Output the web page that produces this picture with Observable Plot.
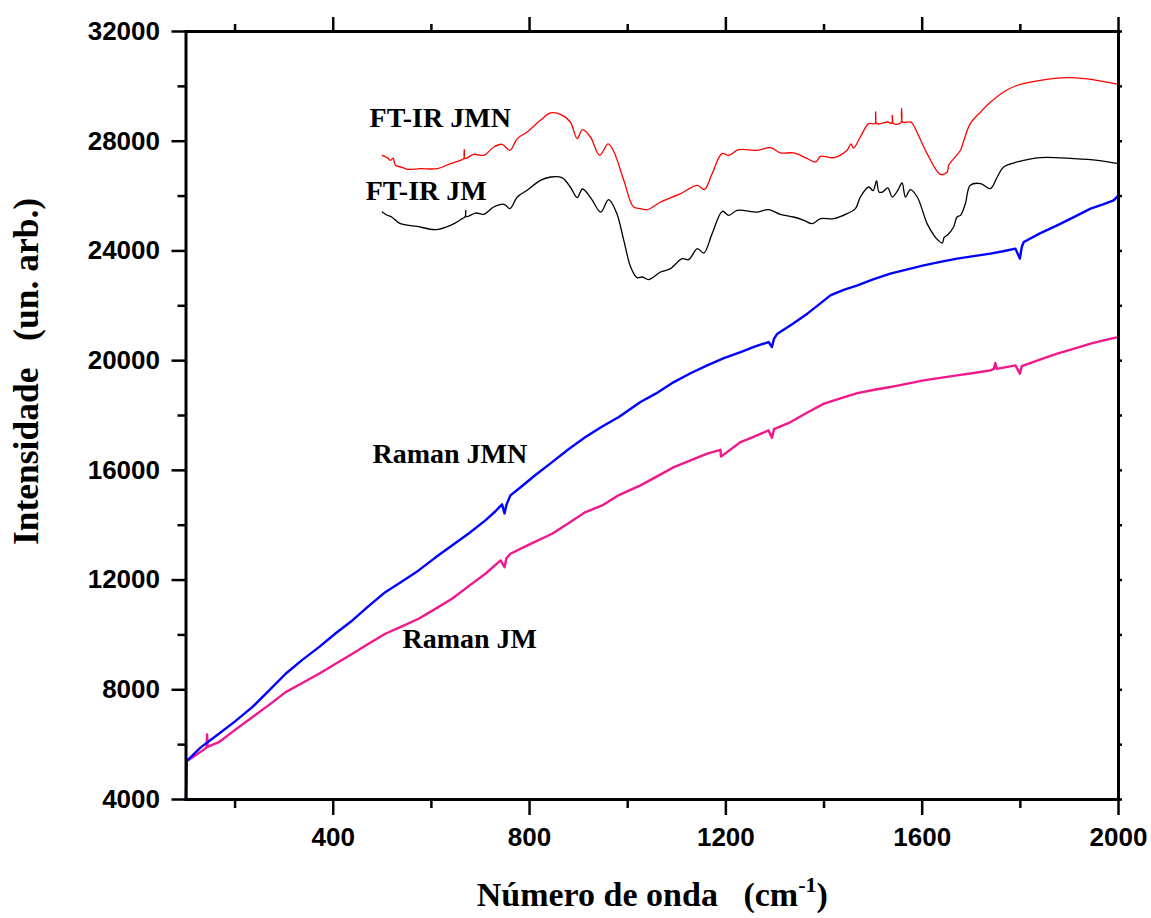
<!DOCTYPE html>
<html><head><meta charset="utf-8">
<script src="https://cdn.jsdelivr.net/npm/d3@7"></script>
<script src="https://cdn.jsdelivr.net/npm/@observablehq/plot@0.6"></script>
<style>html,body{margin:0;padding:0;background:#fff;} svg{display:block}</style>
</head><body><div id="chart"></div>
<script>
// ---- Data ----
const ramanJmnX = [100,101,106,130,167,200,235,270,303,337,371,405,439,472,506,540,574,608,642,676,710,730,744,749,753,761,778,812,846,880,914,948,982,1026,1057,1094,1128,1162,1196,1230,1260,1287,1294,1298,1305,1335,1366,1390,1413,1440,1468,1500,1535,1570,1603,1637,1671,1705,1739,1765,1790,1799,1803,1807,1840,1875,1910,1943,1970,1990,2000];
const ramanJmnY = [4000,5400,5484,5900,6396,6850,7366,7990,8584,9090,9555,10060,10528,11050,11560,11950,12352,12820,13263,13700,14175,14500,14760,14430,14750,15087,15330,15830,16300,16780,17213,17600,17943,18490,18796,19219,19540,19828,20090,20313,20520,20678,20496,20800,20984,21330,21713,22050,22381,22580,22745,22960,23172,23330,23475,23600,23719,23810,23901,23990,24084,23719,24150,24325,24640,24933,25240,25542,25710,25846,26028];

const ramanJmX = [100,101,106,135,142,143,144,167,200,235,270,303,337,371,405,439,472,506,540,574,608,642,676,710,741,749,753,761,800,846,880,914,948,982,1026,1057,1094,1128,1162,1189,1190,1230,1260,1287,1294,1298,1332,1365,1400,1435,1468,1500,1535,1570,1603,1637,1671,1705,1739,1746,1749,1752,1790,1799,1803,1807,1840,1875,1910,1943,1970,1994,2000];
const ramanJmY = [4000,5400,5450,5800,5900,6370,5920,6090,6540,7001,7460,7913,8250,8584,8950,9314,9680,10043,10310,10590,10950,11320,11780,12231,12716,12472,12800,12960,13300,13690,14080,14478,14720,15100,15452,15754,16119,16360,16607,16750,16500,17031,17250,17457,17191,17500,17760,18100,18431,18630,18818,18930,19037,19160,19281,19370,19463,19550,19646,19700,19912,19700,19828,19525,19800,19828,20040,20254,20440,20619,20740,20838,20850];

const ftirJmnX = [500,510,517,522,527,540,551,578,612,639,659,666,667,668,686,707,727,744,760,775,795,822,843,863,883,897,908,924,943,960,972,992,1012,1026,1040,1067,1108,1142,1156,1172,1192,1206,1226,1264,1291,1311,1338,1366,1383,1393,1420,1447,1455,1460,1474,1491,1504,1505,1507,1515,1530,1538,1539,1541,1546,1557,1558,1560,1576,1580,1610,1637,1651,1654,1678,1685,1698,1719,1736,1766,1794,1841,1895,1936,2000];
const ftirJmnY = [27487,27400,27304,27380,27122,27050,26976,27000,27000,27183,27304,27365,27694,27365,27523,27487,27789,27888,27669,28096,28337,28763,29030,28982,28701,28096,28423,28154,27487,27900,27608,26575,25598,25542,25506,25784,26090,26393,26235,26819,27549,27487,27694,27669,27767,27572,27572,27365,27243,27450,27402,27669,27900,27750,28154,28641,28641,29066,28641,28641,28700,28650,28945,28650,28617,28680,29190,28700,28701,28650,27549,26794,26878,27122,27669,28033,28641,29066,29372,29795,30040,30222,30320,30270,30076];

const ftirJmX = [500,510,517,525,537,571,608,639,663,669,670,671,690,707,727,748,760,775,795,822,843,866,883,897,908,926,945,961,977,992,1006,1019,1030,1043,1067,1087,1111,1124,1142,1155,1172,1193,1206,1223,1264,1287,1311,1338,1359,1376,1393,1420,1447,1464,1474,1491,1500,1507,1512,1519,1530,1539,1550,1559,1566,1576,1590,1610,1624,1632,1641,1645,1651,1664,1671,1678,1688,1698,1719,1739,1753,1766,1794,1841,1909,1957,2000];
const ftirJmY = [25418,25300,25261,25150,24995,24897,24777,24934,25177,25250,25481,25250,25382,25335,25601,25700,25542,25966,26210,26575,26696,26672,26331,25944,26258,25900,25418,25870,25400,24387,23414,23026,23049,22954,23231,23354,23719,23682,24084,23924,24631,25445,25298,25481,25418,25506,25335,25237,25116,24995,25177,25177,25360,25542,25966,26331,26200,26550,26150,26148,26300,25966,26200,26477,25966,26236,25966,24995,24569,24400,24289,24500,24569,24872,25237,25298,25725,26393,26455,26272,26696,27062,27243,27402,27365,27304,27183];

const xMajorTicks = [400, 800, 1200, 1600, 2000];
const xMinorTicks = [200, 600, 1000, 1400, 1800];
const yMajorTicks = [4000, 8000, 12000, 16000, 20000, 24000, 28000, 32000];
const yMinorTicks = [6000, 10000, 14000, 18000, 22000, 26000, 30000];

const labelTexts = ["FT-IR JMN", "FT-IR JM", "Raman JMN", "Raman JM"];
const labelX = [474, 466, 480, 541];
const labelY = [28508, 25845, 16254, 9507];

const yTitle = "Intensidade\u00a0\u00a0\u00a0(un. arb.)";
const xTitleMain = "Número de onda\u00a0\u00a0\u00a0(cm";
const xTitleSup = "-1";

// ---- Build tables ----
const pairs = (xs, ys) => xs.map((x, i) => ({x, y: ys[i]}));
const ramanJmn = pairs(ramanJmnX, ramanJmnY);
const ramanJm = pairs(ramanJmX, ramanJmY);
const ftirJmn = pairs(ftirJmnX, ftirJmnY);
const ftirJm = pairs(ftirJmX, ftirJmY);
const labels = labelTexts.map((t, i) => ({t, x: labelX[i], y: labelY[i]}));

const serif = "'Liberation Serif', 'Times New Roman', serif";
const sans = "'Liberation Sans', Arial, sans-serif";
const tickW = 2.5;
const tickFont = 26;

const plot = Plot.plot({
  width: 1151, height: 918,
  marginLeft: 185.5, marginRight: 33, marginTop: 31, marginBottom: 119,
  x: {domain: [100, 2000], label: null},
  y: {domain: [4000, 32000], label: null},
  style: {fontFamily: sans, fontSize: tickFont + "px", fontWeight: "bold", color: "#000", background: "#fff", overflow: "visible"},
  marks: [
    Plot.line(ftirJm, {x: "x", y: "y", stroke: "#000", strokeWidth: 1.3, curve: "catmull-rom"}),
    Plot.line(ftirJmn, {x: "x", y: "y", stroke: "#ff0000", strokeWidth: 1.3, curve: "catmull-rom"}),
    Plot.line(ramanJm, {x: "x", y: "y", stroke: "#f0188c", strokeWidth: 2.4}),
    Plot.line(ramanJmn, {x: "x", y: "y", stroke: "#0000ff", strokeWidth: 2.4}),
    Plot.axisY({anchor: "left", ticks: yMajorTicks, tickSize: 14, tickPadding: 12, strokeWidth: tickW, tickFormat: d => String(d), fontSize: tickFont, fontWeight: "bold", fontFamily: sans, label: null}),
    Plot.axisY({anchor: "left", ticks: yMinorTicks, tickSize: 8, strokeWidth: tickW, tickFormat: () => "", label: null}),
    Plot.axisY({anchor: "right", ticks: yMajorTicks.concat(yMinorTicks), tickSize: 3, strokeWidth: tickW, tickFormat: () => "", label: null}),
    Plot.axisX({anchor: "bottom", ticks: xMajorTicks, tickSize: 16, tickPadding: 12, strokeWidth: tickW, tickFormat: d => String(d), fontSize: tickFont, fontWeight: "bold", fontFamily: sans, label: null}),
    Plot.axisX({anchor: "bottom", ticks: xMinorTicks, tickSize: 9, strokeWidth: tickW, tickFormat: () => "", label: null}),
    Plot.axisX({anchor: "top", ticks: xMajorTicks, tickSize: 15, strokeWidth: tickW, tickFormat: () => "", label: null}),
    Plot.axisX({anchor: "top", ticks: xMinorTicks, tickSize: 8, strokeWidth: tickW, tickFormat: () => "", label: null}),
    Plot.frame({stroke: "#000", strokeWidth: 3}),
    Plot.text(labels, {x: "x", y: "y", text: "t", textAnchor: "start", lineAnchor: "bottom", fontFamily: serif, fontWeight: "bold", fontSize: 28, fill: "#000"}),
    Plot.text([yTitle], {frameAnchor: "left", text: d => d, rotate: -90, dx: -148.5, dy: -44, textAnchor: "middle", lineAnchor: "bottom", fontFamily: serif, fontWeight: "bold", fontSize: 35.5, fill: "#000"}),
    Plot.text([xTitleMain], {frameAnchor: "bottom", text: d => d, dy: 106, textAnchor: "middle", lineAnchor: "bottom", fontFamily: serif, fontWeight: "bold", fontSize: 34, fill: "#000"})
  ]
});

// superscript in x title
const xt = d3.select(plot).selectAll("text").filter(function() { return this.textContent === xTitleMain; });
xt.text(null);
xt.append("tspan").text(xTitleMain);
xt.append("tspan").attr("dy", -14).attr("font-size", 22).text(xTitleSup);
xt.append("tspan").attr("dy", 14).text(")");

document.getElementById("chart").appendChild(plot);
</script>
</body></html>
